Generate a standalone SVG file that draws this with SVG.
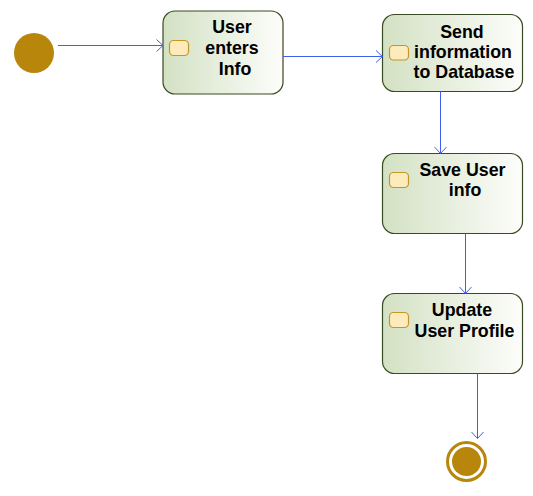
<svg xmlns="http://www.w3.org/2000/svg" width="533" height="496" viewBox="0 0 533 496">
<defs>
<linearGradient id="g" x1="0" y1="0" x2="1" y2="0">
<stop offset="0" stop-color="#d3e1c3"/>
<stop offset="1" stop-color="#fdfdfb"/>
</linearGradient>
<marker id="arr" viewBox="0 0 10 14" refX="9.5" refY="7" markerWidth="10" markerHeight="14" markerUnits="userSpaceOnUse" orient="auto">
<path d="M3,1 L9.5,7 L3,13" fill="none" stroke="#3f5ff0" stroke-width="1"/>
</marker>
</defs>
<style>
.node{fill:url(#g);stroke:#3a4a22;stroke-width:1.2}
.icon{fill:#fdebbb;stroke:#c4952a;stroke-width:1.2}
.t{font-family:"Liberation Sans",Arial,sans-serif;font-weight:bold;font-size:17.8px;fill:#000;text-anchor:middle}
.c{fill:none;stroke:#3f5ff0;stroke-width:1;marker-end:url(#arr)}
</style>
<g id="start"><circle cx="34" cy="53" r="20" fill="#b8860b"/></g>
<g id="n1">
<rect class="node" x="163" y="11" width="120" height="83" rx="12"/>
<rect class="icon" x="169.5" y="40.5" width="19" height="15" rx="4"/>
<text class="t" x="232" y="33">User</text>
<text class="t" x="232" y="54">enters</text>
<text class="t" x="235" y="75">Info</text>
</g>
<g id="n2">
<rect class="node" x="382.5" y="14.5" width="140" height="77" rx="12"/>
<rect class="icon" x="389.5" y="45.5" width="19" height="14.5" rx="4"/>
<text class="t" x="462" y="38">Send</text>
<text class="t" x="463" y="58">information</text>
<text class="t" x="464" y="78">to Database</text>
</g>
<g id="n3">
<rect class="node" x="382.5" y="153.5" width="140" height="80" rx="12"/>
<rect class="icon" x="389.5" y="172.5" width="19" height="15" rx="4"/>
<text class="t" x="462.5" y="176">Save User</text>
<text class="t" x="465" y="196">info</text>
</g>
<g id="n4">
<rect class="node" x="382.5" y="293.5" width="140" height="80" rx="12"/>
<rect class="icon" x="389.5" y="312.5" width="19" height="15" rx="4"/>
<text class="t" x="462" y="316">Update</text>
<text class="t" x="464.5" y="337">User Profile</text>
</g>
<g id="end">
<circle cx="466.5" cy="461.5" r="19" fill="#fff" stroke="#b8860b" stroke-width="3"/>
<circle cx="466.5" cy="461.5" r="14.5" fill="#b8860b"/>
</g>
<g id="connectors">
<path class="c" d="M58,45.5 H163"/>
<path class="c" d="M283,56.5 H382.5"/>
<path class="c" d="M440.5,91.5 V153.5"/>
<path class="c" d="M465.5,233.5 V293.5"/>
<path class="c" d="M477.5,373.5 V438.5"/>
</g>
</svg>
